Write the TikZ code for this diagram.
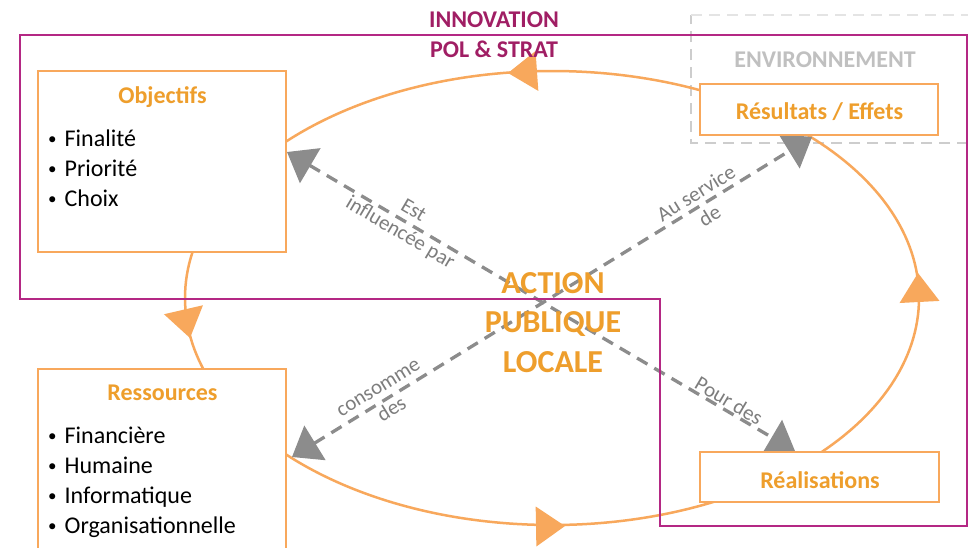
\documentclass[tikz,border=0pt]{standalone}
\usepackage{fontspec}
\setmainfont{Carlito}
\usetikzlibrary{arrows.meta}
\definecolor{orline}{RGB}{248,168,92}
\definecolor{ortext}{RGB}{238,158,44}
\definecolor{magline}{RGB}{180,40,132}
\definecolor{magtext}{RGB}{160,30,100}
\definecolor{arrgray}{RGB}{140,140,140}
\definecolor{lblgray}{RGB}{125,125,125}
\definecolor{envgray}{RGB}{192,192,192}
\definecolor{envdash}{RGB}{205,205,205}
\definecolor{envdashlight}{RGB}{228,228,228}
\newcommand\cyctip[3]{\fill[cychead, shift={(#1,#2)}, rotate=#3] (0pt,0pt) -- (-29pt,20pt) -- (-29pt,-20pt) -- cycle;}
\newcommand\bul{\raisebox{1.8pt}{\fontsize{17}{17}\selectfont •}\hspace{8pt}}
\begin{document}
\begin{tikzpicture}[x=1pt,y=-1pt,
  box/.style={draw=orline, line width=2.5pt, fill=white, inner sep=0pt},
  boxtitle/.style={text=ortext, font=\fontsize{24}{30}\selectfont\bfseries, inner sep=0pt, anchor=base},
  blist/.style={font=\fontsize{24}{30}\selectfont, align=left, inner sep=0pt, anchor=base west, text=black},
  cyc/.style={draw=orline, line width=2.5pt},
  cychead/.style={fill=orline},
  link/.style={draw=arrgray, line width=3.3pt, dash pattern=on 12pt off 8pt,
    arrows={Triangle[length=27pt,width=40pt]-Triangle[length=27pt,width=40pt]}},
  lbl/.style={text=lblgray, font=\fontsize{21}{26}\selectfont, align=center, inner sep=1pt, sloped},
  envline/.style={line width=2pt, dash pattern=on 11pt off 7pt},
  magframe/.style={draw=magline, line width=2.5pt},
  maglbl/.style={text=magtext, font=\fontsize{24}{30}\selectfont\bfseries, align=center, inner sep=0pt, anchor=base},
  centrelbl/.style={text=ortext, font=\fontsize{32}{39.5}\selectfont\bfseries, align=center, inner sep=0pt, anchor=base},
  envlbl/.style={text=envgray, font=\fontsize{24}{30}\selectfont\bfseries, inner sep=0pt, anchor=base},
]
\clip (0,0) rectangle (968,547);
\fill[white] (0,0) rectangle (968,547);

% environment dashed frame
\draw[envline, draw=envdash] (968,143) -- (691,143) -- (691,15);
\draw[envline, draw=envdashlight] (691,15) -- (968,15);

% cycle ellipse
\coordinate (ec) at (552,298);
\draw[cyc] (ec) ellipse [x radius=367pt, y radius=227pt];
\cyctip{508}{73}{184}
\cyctip{190}{338}{-77}
\cyctip{565}{526}{1}
\cyctip{918}{273}{93}

% dashed links
\coordinate (objtip) at (287,152);
\coordinate (realtip) at (795,451);
\coordinate (restip) at (292,457);
\coordinate (resulttip) at (812,137);
\draw[link] (objtip) -- node[lbl, pos=0.235] {Est\\influencée par}
                        node[lbl, pos=0.86, above] {Pour des} (realtip);
\draw[link] (restip) -- node[lbl, pos=0.18] {consomme\\des}
                        node[lbl, pos=0.79] {Au service\\de} (resulttip);

% magenta frame
\draw[magframe] (20,35) -- (967,35) -- (967,526) -- (660,526) -- (660,299) -- (20,299) -- cycle;

% boxes
\node[box, minimum width=248pt, minimum height=181pt] (obj) at (162,161.5) {};
\node[box, minimum width=248pt, minimum height=231pt] (ress) at (162,484.5) {};
\node[box, minimum width=238pt, minimum height=51pt] (result) at (819,109.5) {};
\node[box, minimum width=239pt, minimum height=50pt] (real) at (819.5,477) {};

% texts (multi-line nodes: base = last line)
\node[boxtitle] (objT) at (162.5,103) {Objectifs};
\node[blist] (objL) at (48,206) {\bul Finalité\\\bul Priorité\\\bul Choix};
\node[boxtitle] (ressT) at (162.5,400) {Ressources};
\node[blist] (ressL) at (48,533) {\bul Financière\\\bul Humaine\\\bul Informatique\\\bul Organisationnelle};
\node[boxtitle] (resultT) at (819.5,119) {Résultats / Effets};
\node[boxtitle] (realT) at (820,488) {Réalisations};
\node[maglbl] (innov) at (494,57) {INNOVATION\\POL \& STRAT};
\node[envlbl] (env) at (825,67) {ENVIRONNEMENT};
\node[centrelbl] (apl) at (553,372) {ACTION\\PUBLIQUE\\LOCALE};
\end{tikzpicture}
\end{document}
